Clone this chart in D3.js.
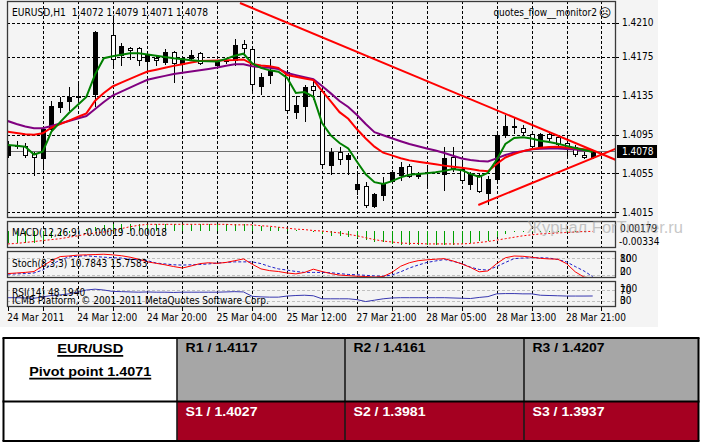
<!DOCTYPE html>
<html><head><meta charset="utf-8">
<script src="https://cdn.jsdelivr.net/npm/d3@7"></script>
<style>
html,body{margin:0;padding:0;background:#fff;}
svg{display:block;}
.mt{font-family:"DejaVu Sans Condensed","DejaVu Sans",sans-serif;font-size:10px;fill:#000;white-space:pre;}
.tb{font-family:"Liberation Sans",Arial,sans-serif;font-weight:bold;font-size:12px;}
</style></head><body>
<svg id="c" width="701" height="443"></svg>
<script>
// ---------------- DATA ----------------
const chartTitle = "EURUSD,H1  1.4072 1.4079 1.4071 1.4078";
const expertName = "quotes_flow__monitor2";
const copyright = "ICMB Platform, © 2001-2011 MetaQuotes Software Corp.";
const watermark = "Журнал ForTrader.ru";
const currentPrice = 1.4078;

const opens = [1.4074,1.4084,1.4083,1.4075,1.4071,1.4101,1.4123,1.4129,1.4134,null,1.4137,null,1.4197,1.4177,1.4184,1.4184,1.4171,1.4174,1.4170,1.4180,1.4168,1.4174,1.4179,null,1.4167,1.4171,1.4172,1.4188,1.4183,1.4145,1.4156,null,1.4159,1.4118,1.4124,1.4145,1.4140,1.4064,1.4077,1.4070,1.4039,1.4042,1.4021,1.4033,1.4047,1.4053,1.4063,1.4052,1.4055,null,1.4054,1.4072,1.4060,1.4044,1.4053,1.4035,1.4049,1.4094,1.4104,1.4102,1.4096,1.4083,1.4096,1.4092,1.4086,1.4082,1.4074,1.4072];
const highs = [1.4088,1.4088,1.4086,1.4077,1.4102,1.4129,1.4134,1.4144,1.4149,null,1.4201,null,1.4215,1.4189,1.4185,1.4185,1.4178,1.4177,1.4183,1.4181,1.4176,1.4182,1.4180,null,1.4172,1.4174,1.4193,1.4192,1.4185,1.4158,1.4173,null,1.4161,1.4135,1.4146,1.4151,1.4143,1.4081,1.4082,1.4076,1.4055,1.4046,1.4035,1.4051,1.4058,1.4067,1.4065,1.4056,1.4064,null,1.4082,1.4082,1.4069,1.4056,1.4055,1.4052,1.4098,1.4115,1.4112,1.4105,1.4098,1.4097,1.4097,1.4093,1.4088,1.4084,1.4077,1.4079];
const lows = [1.4072,1.4081,1.4072,1.4053,1.4060,1.4100,1.4118,1.4120,1.4131,null,1.4124,null,1.4163,1.4166,1.4173,1.4166,1.4161,1.4166,1.4168,1.4149,1.4158,1.4172,1.4168,null,1.4165,1.4169,1.4166,1.4179,1.4141,1.4137,1.4148,null,1.4119,1.4112,1.4109,1.4132,1.4063,1.4054,1.4065,1.4054,1.4034,1.4020,1.4020,1.4028,1.4045,1.4048,1.4051,1.4050,1.4040,null,1.4038,1.4057,1.4046,1.4039,1.4036,1.4024,1.4048,1.4092,1.4097,1.4094,1.4080,1.4082,1.4089,1.4082,1.4074,1.4073,1.4071,1.4071];
const closes = [1.4084,1.4083,1.4074,1.4072,1.4101,1.4124,1.4128,1.4134,1.4135,null,1.4200,null,1.4173,1.4186,1.4182,1.4172,1.4177,1.4172,1.4180,1.4169,1.4174,1.4177,1.4169,null,1.4170,1.4172,1.4187,1.4184,1.4147,1.4154,1.4160,null,1.4120,1.4125,1.4144,1.4141,1.4065,1.4077,1.4070,1.4074,1.4044,1.4023,1.4034,1.4045,1.4056,1.4062,1.4052,1.4054,1.4056,null,1.4071,1.4061,1.4048,1.4054,1.4037,1.4049,1.4094,1.4104,1.4103,1.4098,1.4083,1.4096,1.4091,1.4085,1.4082,1.4075,1.4072,1.4078];

const maGreen = [1.40842,1.40834,1.40824,1.40744,1.40773,1.4098,1.41078,1.41171,1.41254,1.41336,1.41569,1.41735,1.41755,1.41771,1.41786,1.41785,1.41774,1.41761,1.41747,1.41734,1.41725,1.41715,1.41706,1.41703,1.41701,1.41728,1.4176,1.41781,1.41682,1.41635,1.4161,1.41596,1.41532,1.41377,1.41387,1.41338,1.41068,1.40941,1.40863,1.40806,1.4067,1.40541,1.4046,1.40441,1.4047,1.40509,1.40536,1.40544,1.40551,1.40562,1.40576,1.40595,1.40583,1.40545,1.40513,1.40556,1.4069,1.40852,1.40914,1.40923,1.40909,1.40886,1.40872,1.40855,1.40833,1.40811,1.40791,1.40771];
const maRed = [1.40978,1.40966,1.40952,1.40947,1.40963,1.4102,1.41057,1.41093,1.4113,1.41167,1.41298,1.41377,1.41444,1.41484,1.41522,1.41561,1.41598,1.41617,1.41636,1.41656,1.41673,1.4169,1.41706,1.41709,1.41711,1.41714,1.41717,1.41722,1.41675,1.4166,1.41653,1.41636,1.41561,1.41545,1.41527,1.4151,1.41398,1.4129,1.4118,1.41112,1.41004,1.40909,1.40825,1.40763,1.40735,1.40706,1.40684,1.4067,1.40657,1.40644,1.4063,1.40619,1.40607,1.40595,1.40581,1.40573,1.40647,1.40714,1.4075,1.40779,1.40798,1.40814,1.40821,1.40823,1.40816,1.40808,1.40799,1.40788];
const maPurple = [1.41089,1.41058,1.41032,1.41014,1.41014,1.41038,1.41063,1.41089,1.41115,1.4114,1.41212,1.41284,1.41351,1.41392,1.41433,1.41474,1.41513,1.41533,1.41553,1.41572,1.41586,1.41598,1.41611,1.41624,1.41639,1.41658,1.41672,1.41672,1.41652,1.41642,1.41636,1.41624,1.41583,1.41561,1.41539,1.41518,1.41449,1.41373,1.41295,1.41233,1.41151,1.41058,1.40974,1.40943,1.40912,1.40881,1.40852,1.4083,1.40807,1.40785,1.4076,1.40731,1.40703,1.40688,1.40678,1.40672,1.40705,1.40739,1.40765,1.40778,1.40798,1.40803,1.40807,1.40805,1.40801,1.40795,1.40786,1.40777];

const trendUpper = [[26.6,1.42303],[69.6,1.4069]];
const trendLower = [[53.9,1.40225],[69.6,1.40803]];

const macdMain = [-0.0027,-0.0027,-0.0026,-0.0026,-0.0022,-0.0016,-0.0010,-0.0005,-0.0001,0.0003,0.0008,0.0011,0.0013,0.0014,0.0014,0.0014,0.0014,0.0014,0.0014,0.0013,0.0013,0.0013,0.0013,0.0013,0.0013,0.0013,0.0014,0.0014,0.0012,0.0010,0.0008,0.0007,0.0004,0.0001,-0.0001,-0.0002,-0.0008,-0.0011,-0.0012,-0.0013,-0.0015,-0.0020,-0.0024,-0.0025,-0.0028,-0.0030,-0.0031,-0.0031,-0.0031,-0.0031,-0.0030,-0.0030,-0.0029,-0.0026,-0.0022,-0.0021,-0.0014,-0.0007,-0.0004,-0.0003,-0.0002,-0.0002,-0.0002,-0.0002,-0.0002,-0.0002,-0.0002,-0.00019];
const macdSignal = [-0.0028,-0.0027,-0.0025,-0.0023,-0.0021,-0.0019,-0.0017,-0.0014,-0.0011,-0.0008,-0.0005,-0.0003,0.0000,0.0004,0.0008,0.0011,0.0013,0.0013,0.0013,0.0013,0.0013,0.0013,0.0013,0.0013,0.0013,0.0013,0.0012,0.0012,0.0012,0.0010,0.0009,0.0007,0.0005,0.0003,0.0002,0.0000,-0.0001,-0.0003,-0.0005,-0.0008,-0.0011,-0.0015,-0.0019,-0.0022,-0.0024,-0.0026,-0.0027,-0.0027,-0.0028,-0.0028,-0.0028,-0.0028,-0.0028,-0.0027,-0.0025,-0.0023,-0.0020,-0.0017,-0.0014,-0.0011,-0.0009,-0.0007,-0.0006,-0.0005,-0.0004,-0.0003,-0.0002,-0.00018];
const macdScaleLabels = [0.00179,-0.00334];

const stochMain = [26,28,30,33,52,70,84,86,89,90,91,92,90,87,82,75,66,61,56,50,45,52,60,63,61,64,70,76,58,42,36,33,28,25,30,41,33,26,21,19,17,16,14,16,30,51,63,70,73,75,77,69,59,47,32,35,60,80,86,85,82,78,76,75,60,32,14,10.7843];
const stochSignal = [24,25,26,28,38,57,72,83,85,87,84,82,80,79,75,73,70,62,59,56,55,56,57,59,62,64,66,66,66,60,50,42,38,33,30,30,30,29,26,23,22,20,18,17,21,32,45,55,64,69,74,68,60,48,40,38,50,64,77,79,80,80,79,74,66,50,35,15.7583];
const stochLevels = [80,20];
const stochScaleLabels = [100,80,20,0];

const rsi = [42,42,41,40,45,50,52,56,62,70,73,70,65,64,63,62,63,62,62,61,62,62,62,62,62,63,64,63,47,45,44,44,48,50,51,49,38,38,38,38,35,28,33,38,41,42,42,42,42,42,42,41,40,39,43,46,56,57,57,56,56,51,50,49,48,48,48,48.194];
const rsiLevels = [70,30];
const rsiScaleLabels = [100,70,30,0];

const priceTicks = [1.4015,1.4055,1.4095,1.4135,1.4175,1.4210];
const timeLabelBars = [0,8,16,24,32,40,48,56,64];
const timeLabels = ["24 Mar 2011","24 Mar 12:00","24 Mar 20:00","25 Mar 04:00","25 Mar 12:00","27 Mar 21:00","28 Mar 05:00","28 Mar 13:00","28 Mar 21:00"];
const gridBars = d3.range(4, 69, 4);

const pairName = "EUR/USD";
const pivotPoint = 1.4071;
const resistNames = ["R1","R2","R3"];
const resistValues = [1.4117,1.4161,1.4207];
const supportNames = ["S1","S2","S3"];
const supportValues = [1.4027,1.3981,1.3937];

// ---------------- LAYOUT ----------------
const svg = d3.select("#c");
const L = 7, R = 616;
const main = {t:1, b:218}, pMacd = {t:221, b:248}, pSto = {t:251, b:278}, pRsi = {t:281, b:307};
const loc = d3.formatLocale({decimal:".", thousands:",", grouping:[3], currency:["",""], minus:"-"});
const f4 = loc.format(".4f"), f5 = loc.format(".5f");

const x = d3.scaleLinear().domain([0, 67]).range([7.8, 592.7]);
const y = d3.scaleLinear().domain([1.4015, 1.4210]).range([212.3, 22.7]);
const macdY = d3.scaleLinear().domain([-0.00334, 0.00179]).range([246.5, 222]);
const stoY = d3.scaleLinear().domain([0, 100]).range([281.2, 251.9]);
const rsiY = d3.scaleLinear().domain([0, 100]).range([309.25, 281.75]);
const px = i => Math.round(x(i)) + 0.5;
const crisp = v => Math.round(v) + 0.5;

svg.append("rect").attr("x",0).attr("y",0).attr("width",658).attr("height",327).attr("fill","#f4f4f4");

const defs = svg.append("defs");
[["cMain",main],["cMacd",pMacd],["cSto",pSto],["cRsi",pRsi]].forEach(([id,p])=>{
  defs.append("clipPath").attr("id",id).append("rect").attr("x",L+1).attr("y",p.t+1).attr("width",R-L-1).attr("height",p.b-p.t-1);
});

// grid
const grid = svg.append("g").attr("stroke","#000").attr("stroke-dasharray","3,2").attr("shape-rendering","crispEdges");
grid.selectAll(".hg").data(priceTicks).join("line")
  .attr("x1",L).attr("x2",R).attr("y1",d=>crisp(y(d))).attr("y2",d=>crisp(y(d)));
[main,pMacd,pSto,pRsi].forEach(p=>{
  grid.append("g").selectAll("line").data(gridBars).join("line")
    .attr("x1",d=>px(d)).attr("x2",d=>px(d)).attr("y1",p.t).attr("y2",p.b);
});
grid.append("line").attr("x1",L).attr("x2",R).attr("y1",pSto.b-0.5).attr("y2",pSto.b-0.5);
grid.append("line").attr("x1",L).attr("x2",R).attr("y1",pRsi.b-0.5).attr("y2",pRsi.b-0.5);

// main panel
const gm = svg.append("g").attr("clip-path","url(#cMain)");
gm.append("line").attr("x1",L).attr("x2",R).attr("y1",crisp(y(currentPrice))).attr("y2",crisp(y(currentPrice)))
  .attr("stroke","#6e6e6e").attr("shape-rendering","crispEdges");

const bars = d3.range(opens.length).filter(i=>opens[i]!==null)
  .map(i=>({i,o:opens[i],h:highs[i],l:lows[i],c:closes[i]}));
const cg = gm.append("g").attr("shape-rendering","crispEdges");
cg.selectAll(".wick").data(bars).join("line")
  .attr("x1",d=>px(d.i)).attr("x2",d=>px(d.i))
  .attr("y1",d=>Math.round(y(d.h))).attr("y2",d=>Math.round(y(d.l))+1)
  .attr("stroke","#000");
cg.selectAll(".body").data(bars).join("rect")
  .attr("x",d=>px(d.i)-2).attr("width",4)
  .attr("y",d=>Math.round(y(Math.max(d.o,d.c)))+0.5)
  .attr("height",d=>Math.max(0.01,Math.round(y(Math.min(d.o,d.c)))-Math.round(y(Math.max(d.o,d.c)))))
  .attr("fill",d=>d.c>d.o?"#000":"#fff").attr("stroke","#000");

const maLine = d3.line().x((d,i)=>x(i)).y(d=>y(d));
[[maPurple,"#800080"],[maRed,"#ff0000"],[maGreen,"#008000"]].forEach(([arr,col])=>{
  gm.append("path").attr("d",maLine(arr)).attr("fill","none").attr("stroke",col).attr("stroke-width",2);
});
const tl = d3.line().x(d=>x(d[0])).y(d=>y(d[1]));
[trendUpper,trendLower].forEach(t=>{
  gm.append("path").attr("d",tl(t)).attr("fill","none").attr("stroke","#ff0000").attr("stroke-width",2);
});

// MACD
const gM = svg.append("g").attr("clip-path","url(#cMacd)");
gM.selectAll("line").data(macdMain).join("line")
  .attr("x1",(d,i)=>px(i)).attr("x2",(d,i)=>px(i))
  .attr("y1",macdY(0)).attr("y2",d=>macdY(d))
  .attr("stroke","#00a000").attr("shape-rendering","crispEdges");
gM.append("path").attr("d",d3.line().x((d,i)=>x(i)).y(d=>macdY(d))(macdSignal))
  .attr("fill","none").attr("stroke","#ff0000").attr("stroke-dasharray","2,2");

// Stoch
const gS = svg.append("g").attr("clip-path","url(#cSto)");
gS.selectAll("line").data(stochLevels).join("line")
  .attr("x1",L).attr("x2",R).attr("y1",d=>crisp(stoY(d))).attr("y2",d=>crisp(stoY(d)))
  .attr("stroke","#c0c0c0").attr("stroke-dasharray","3,2").attr("shape-rendering","crispEdges");
gS.append("path").attr("d",d3.line().x((d,i)=>x(i)).y(d=>stoY(d))(stochSignal))
  .attr("fill","none").attr("stroke","#1c1cc8").attr("stroke-dasharray","3,2");
gS.append("path").attr("d",d3.line().x((d,i)=>x(i)).y(d=>stoY(d))(stochMain))
  .attr("fill","none").attr("stroke","#ff0000");

// RSI
const gR = svg.append("g").attr("clip-path","url(#cRsi)");
gR.selectAll("line").data(rsiLevels).join("line")
  .attr("x1",L).attr("x2",R).attr("y1",d=>crisp(rsiY(d))).attr("y2",d=>crisp(rsiY(d)))
  .attr("stroke","#c0c0c0").attr("stroke-dasharray","3,2").attr("shape-rendering","crispEdges");
gR.append("path").attr("d",d3.line().x((d,i)=>x(i)).y(d=>rsiY(d))(rsi))
  .attr("fill","none").attr("stroke","#3838b0");

// panel borders
[main,pMacd,pSto,pRsi].forEach(p=>{
  svg.append("rect").attr("x",L+0.5).attr("y",p.t+0.5).attr("width",R-L-1).attr("height",p.b-p.t-1)
    .attr("fill","none").attr("stroke","#3a3a3a").attr("stroke-width",1.3);
});

// texts
const T = (t,xx,yy,cls="mt")=>svg.append("text").attr("class",cls).attr("x",xx).attr("y",yy).text(t);
T(chartTitle,12,15.7).attr("textLength",196).attr("lengthAdjust","spacingAndGlyphs");
T(expertName,597,16).attr("text-anchor","end");
svg.append("text").attr("x",605).attr("y",17).attr("text-anchor","middle")
  .style("font-family","DejaVu Sans").style("font-size","12px").text("☹");
T("MACD(12,26,9) "+f5(macdMain[macdMain.length-1])+" "+f5(macdSignal[macdSignal.length-1]),12,235.5);
T("Stoch(8,3,3) "+f4(stochMain[stochMain.length-1])+" "+f4(stochSignal[stochSignal.length-1]),12,266.5);
T("RSI(14) "+f4(rsi[rsi.length-1]),12,296);
T(copyright,12,303.5);

// price axis
svg.append("g").selectAll("text").data(priceTicks).join("text").attr("class","mt")
  .attr("x",622).attr("y",d=>y(d)+3.6).text(d=>f4(d));
svg.append("g").selectAll("line").data(priceTicks).join("line")
  .attr("x1",R).attr("x2",R+3).attr("y1",d=>crisp(y(d))).attr("y2",d=>crisp(y(d))).attr("stroke","#000");
svg.append("rect").attr("x",617).attr("y",Math.round(y(currentPrice))-6).attr("width",40).attr("height",13).attr("fill","#000");
T(f4(currentPrice),622,y(currentPrice)+4).style("fill","#fff");

// sub-panel scale labels (MetaTrader draws them overlapping in these small windows)
const clampLbl = (v,p)=>Math.max(p.t+7.5,Math.min(p.b-7,v));
T(f5(macdScaleLabels[0]),620,clampLbl(macdY(macdScaleLabels[0]),pMacd)+3.5);
T(f5(macdScaleLabels[1]),619,clampLbl(macdY(macdScaleLabels[1]),pMacd)+3.5);
stochScaleLabels.forEach(v=>T(String(v),620,clampLbl(stoY(v),pSto)+3.5));
rsiScaleLabels.forEach(v=>T(String(v),620,clampLbl(rsiY(v),pRsi)+3.5));

// time axis
svg.append("g").selectAll("line").data(gridBars.concat([0])).join("line")
  .attr("x1",d=>px(d)).attr("x2",d=>px(d)).attr("y1",pRsi.b).attr("y2",pRsi.b+4).attr("stroke","#000");
svg.append("g").selectAll("text").data(timeLabelBars).join("text").attr("class","mt")
  .attr("x",d=>x(d)-0.5).attr("y",321).text((d,k)=>timeLabels[k]);

// watermark
svg.append("text").attr("x",527).attr("y",233).attr("textLength",156).attr("lengthAdjust","spacingAndGlyphs")
  .style("font-family","Liberation Sans, Arial, sans-serif").style("font-size","16px")
  .style("fill","#9a9a9a").style("opacity",0.55).text(watermark);

// ---------------- TABLE ----------------
const cols = [3.5,177,345,524,698.5];
const rowsY = [338,401.5,441];
const tg = svg.append("g");
for (let r=0;r<2;r++){
  for (let c=0;c<4;c++){
    tg.append("rect").attr("x",cols[c]).attr("y",rowsY[r]).attr("width",cols[c+1]-cols[c]).attr("height",rowsY[r+1]-rowsY[r])
      .attr("fill", c===0?"#fff":(r===0?"#a6a6a6":"#a50021"));
  }
}
cols.forEach((cx,k)=>tg.append("line").attr("x1",cx).attr("x2",cx).attr("y1",rowsY[0]).attr("y2",rowsY[2])
  .attr("stroke",k===0||k===4?"#000":"#1a1a1a").attr("stroke-width",k===0||k===4?2:1.6));
rowsY.forEach(ry=>tg.append("line").attr("x1",cols[0]-1).attr("x2",cols[4]+1).attr("y1",ry).attr("y2",ry)
  .attr("stroke","#000").attr("stroke-width",2.2));

const centerX = (cols[0]+cols[1])/2;
const uText = (t,yy,w)=>{
  tg.append("text").attr("class","tb").attr("x",centerX).attr("y",yy).attr("text-anchor","middle")
    .attr("textLength",w).attr("lengthAdjust","spacingAndGlyphs").style("fill","#000").text(t);
  tg.append("line").attr("x1",centerX-w/2).attr("x2",centerX+w/2).attr("y1",yy+2.6).attr("y2",yy+2.6)
    .attr("stroke","#000").attr("stroke-width",1.6);
};
uText(pairName,353.3,66);
uText("Pivot point "+f4(pivotPoint),376,122);
resistValues.forEach((v,k)=>{
  tg.append("text").attr("class","tb").attr("x",cols[k+1]+8.5).attr("y",351.7)
    .attr("textLength",72).attr("lengthAdjust","spacingAndGlyphs").style("fill","#000")
    .text(resistNames[k]+" / "+f4(v));
});
supportValues.forEach((v,k)=>{
  tg.append("text").attr("class","tb").attr("x",cols[k+1]+8.5).attr("y",415.7)
    .attr("textLength",72).attr("lengthAdjust","spacingAndGlyphs").style("fill","#fff")
    .text(supportNames[k]+" / "+f4(v));
});
</script>
</body></html>
